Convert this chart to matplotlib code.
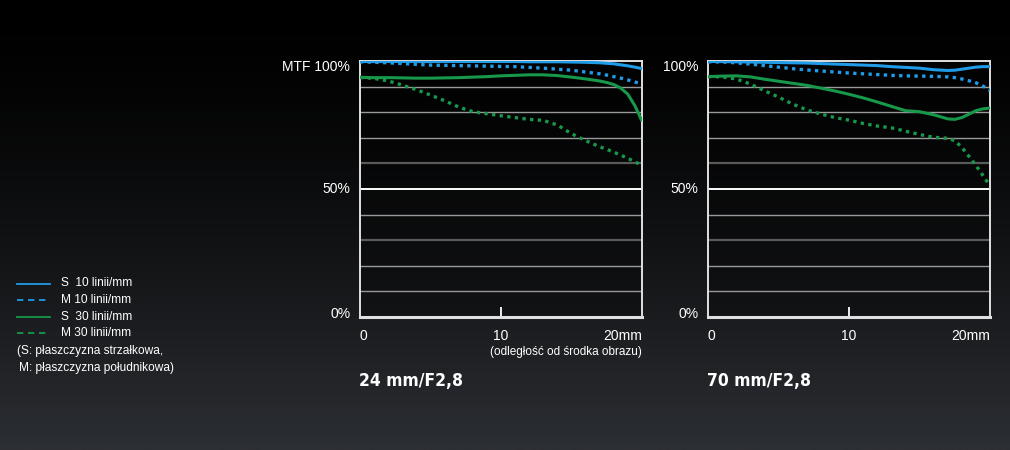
import numpy as np
import matplotlib.pyplot as plt
from matplotlib.lines import Line2D

plt.rcParams['font.family'] = ['Liberation Sans', 'DejaVu Sans']

# distance from image centre (mm), shared by all curves
x_mm = [0, 1, 2, 3, 4, 5, 6, 7, 8, 9, 10, 11, 12, 13, 14, 15, 16, 17,
        17.5, 18, 18.5, 19, 19.5, 20]

# 24 mm/F2,8
w_s10 = [99.8, 99.8, 99.8, 99.8, 99.8, 99.8, 99.8, 99.8, 99.8, 99.8, 99.8, 99.8,
         99.7, 99.7, 99.7, 99.6, 99.5, 99.3, 99.1, 98.9, 98.5, 98.1, 97.6, 97.0]
w_m10 = [99.7, 99.5, 99.3, 99.0, 98.7, 98.4, 98.3, 98.2, 98.1, 98.0, 97.9, 97.8,
         97.5, 97.2, 96.8, 96.4, 95.7, 95.0, 94.5, 93.9, 93.3, 92.6, 91.8, 91.0]
w_s30 = [93.6, 93.5, 93.5, 93.4, 93.3, 93.3, 93.4, 93.5, 93.7, 93.9, 94.2, 94.4,
         94.6, 94.6, 94.3, 93.7, 93.0, 92.2, 91.6, 90.8, 89.4, 87.0, 82.5, 76.5]
w_m30 = [93.6, 93.2, 92.2, 90.6, 88.8, 86.7, 84.5, 82.0, 80.2, 79.4, 78.6, 77.9,
         77.2, 76.8, 75.0, 71.6, 68.9, 66.5, 65.5, 64.4, 63.2, 62.0, 60.6, 59.2]

# 70 mm/F2,8
t_s10 = [99.8, 99.8, 99.7, 99.6, 99.5, 99.4, 99.3, 99.2, 99.0, 98.8, 98.6, 98.4,
         98.2, 97.8, 97.5, 97.2, 96.6, 96.3, 96.4, 96.8, 97.2, 97.6, 97.8, 97.8]
t_m10 = [99.7, 99.6, 99.3, 98.8, 98.2, 97.6, 97.0, 96.5, 96.1, 95.7, 95.3, 95.0,
         94.7, 94.4, 94.2, 94.1, 94.0, 93.8, 93.5, 93.0, 92.3, 91.5, 90.2, 88.5]
t_s30 = [93.9, 94.1, 94.2, 93.8, 92.9, 92.1, 91.3, 90.5, 89.4, 88.3, 87.0, 85.6,
         84.0, 82.3, 80.6, 80.2, 79.0, 77.4, 77.2, 77.9, 79.2, 80.6, 81.3, 81.6]
t_m30 = [93.9, 93.8, 93.0, 91.0, 88.4, 85.9, 83.2, 80.9, 79.3, 77.9, 76.9, 75.6,
         74.6, 73.9, 72.6, 71.3, 70.2, 69.8, 68.9, 66.3, 62.8, 59.2, 55.3, 51.2]

titles = ["24 mm/F2,8", "70 mm/F2,8"]
legend_labels = ["S  10 linii/mm", "M 10 linii/mm", "S  30 linii/mm", "M 30 linii/mm"]

BLUE = "#1f9be8"
GREEN = "#17984a"

W, H = 1010, 450
fig = plt.figure(figsize=(W / 100, H / 100), dpi=100)

# background gradient
bg = fig.add_axes([0, 0, 1, 1], zorder=-10)
g = np.linspace(0, 1, 300) ** 1.5
top = np.array([0.0, 0.0, 0.0])
bot = np.array([0x2c, 0x2f, 0x34]) / 255
img = top[None, :] * (1 - g[:, None]) + bot[None, :] * g[:, None]
bg.imshow(img[:, None, :], aspect="auto", extent=[0, W, H, 0])
bg.set_xlim(0, W)
bg.set_ylim(H, 0)
bg.axis("off")


def px_box(x0, x1, y0, y1):
    return [x0 / W, 1 - y1 / H, (x1 - x0) / W, (y1 - y0) / H]


def mtf_panel(box, s10, m10, s30, m30, top_label, title, note=None):
    ax = fig.add_axes(box)
    ax.set_facecolor((0, 0, 0, 0.3))
    ax.set_xlim(0, 20)
    ax.set_ylim(0, 100)
    for lev in [10, 20, 40, 70, 80, 90]:
        ax.axhline(lev, color="#999999", lw=1.0, zorder=1)
    for lev in [30, 60]:
        ax.axhline(lev, color="#5a5a5a", lw=1.6, zorder=1)
    ax.axhline(50, color="white", lw=1.4, zorder=1)
    for s in ax.spines.values():
        s.set_color("#e0e0e0")
        s.set_linewidth(1.4)
    ax.spines["bottom"].set_linewidth(2.2)

    dot = (0, (1, 1.3))
    ax.plot(x_mm, m10, color=BLUE, lw=2.4, ls=dot, zorder=3)
    ax.plot(x_mm, s10, color=BLUE, lw=2.2, zorder=4, solid_capstyle="butt")
    ax.plot(x_mm, m30, color=GREEN, lw=2.4, ls=dot, zorder=3)
    ax.plot(x_mm, s30, color=GREEN, lw=2.2, zorder=4, solid_capstyle="butt")

    ax.set_xticks([10])
    ax.set_xticklabels([])
    ax.tick_params(axis="x", direction="in", length=7, width=1.3, colors="white")
    ax.set_yticks([])

    tk = dict(color="white", fontsize=10)
    ax.text(0, -4.5, "0", ha="left", va="top", **tk)
    ax.text(10, -4.5, "10", ha="center", va="top", **tk)
    ax.text(20, -4.5, "20mm", ha="right", va="top", **tk)
    ax.annotate(top_label, (0, 97.5), xytext=(-7, 0), textcoords="offset points",
                ha="right", va="center", **tk)
    ax.annotate("50%", (0, 50), xytext=(-7, 0), textcoords="offset points",
                ha="right", va="center", **tk)
    ax.annotate("0%", (0, 1), xytext=(-7, 0), textcoords="offset points",
                ha="right", va="center", **tk)
    if note:
        ax.text(20, -11.5, note, ha="right", va="top", color="white", fontsize=8.5)
    ax.text(-0.1, -25, title, ha="left", va="center", color="white", fontsize=12.5,
            fontweight="bold", fontstretch="condensed", family="DejaVu Sans")
    return ax


mtf_panel(px_box(360, 642, 61, 317), w_s10, w_m10, w_s30, w_m30,
          "MTF 100%", titles[0], "(odległość od środka obrazu)")
mtf_panel(px_box(708, 990, 61, 317), t_s10, t_m10, t_s30, t_m30,
          "100%", titles[1])

# legend on the left
styles = [(BLUE, "-"), (BLUE, (0, (3.5, 2.6))), (GREEN, "-"), (GREEN, (0, (3.5, 2.6)))]
rows = [283.5, 300, 316.5, 333]
for (c, ls), yy, lab in zip(styles, rows, legend_labels):
    bg.add_line(Line2D([17, 50], [yy, yy], color=c, lw=1.3, ls=ls))
    bg.text(61, yy, lab, color="white", fontsize=8.6, va="center", ha="left")
bg.text(17, 351, "(S: płaszczyzna strzałkowa,", color="white", fontsize=8.6,
        va="center", ha="left")
bg.text(19, 367.5, "M: płaszczyzna południkowa)", color="white", fontsize=8.6,
        va="center", ha="left")

fig.savefig("out.png", dpi=100)
